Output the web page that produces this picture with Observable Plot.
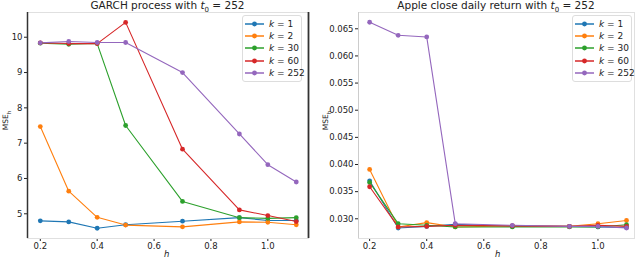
<!DOCTYPE html>
<html><head><meta charset="utf-8">
<script src="https://cdn.jsdelivr.net/npm/d3@7"></script>
<script src="https://cdn.jsdelivr.net/npm/@observablehq/plot@0.6"></script>
<style>
body{margin:0;background:#fff;font-family:"DejaVu Sans",sans-serif;}
#wrap{position:relative;width:640px;height:260px;overflow:hidden;}
.panel{position:absolute;top:0;width:320px;height:260px;}
.title{position:absolute;top:0;left:0;width:100%;text-align:center;font-size:10.5px;line-height:11px;color:#222;white-space:nowrap;}
.ylab{position:absolute;font-size:7.5px;line-height:9px;color:#222;transform:rotate(-90deg);transform-origin:center;white-space:nowrap;}
.xlab{position:absolute;top:249px;font-size:8.5px;line-height:10px;font-style:italic;color:#222;}
.legend{position:absolute;top:15px;width:60px;height:67px;border:1px solid #ddd;border-radius:3px;background:rgba(255,255,255,0.85);box-sizing:border-box;}
.row{position:absolute;left:0;height:12px;font-size:9px;color:#222;white-space:nowrap;}
.row svg{position:absolute;left:0;top:0;}
.row span{position:absolute;left:26px;top:0;line-height:12px;}
</style></head>
<body><div id="wrap"></div>
<script>
const h = [0.2, 0.3, 0.4, 0.5, 0.7, 0.9, 1.0, 1.1];
const kLabels = ["1", "2", "30", "60", "252"];
const colors = ["#1f77b4", "#ff7f0e", "#2ca02c", "#d62728", "#9467bd"];

const garchK1   = [4.80, 4.77, 4.59, 4.69, 4.79, 4.89, 4.81, 4.81];
const garchK2   = [7.47, 5.64, 4.90, 4.68, 4.63, 4.77, 4.76, 4.69];
const garchK30  = [9.83, 9.80, 9.82, 7.50, 5.35, 4.89, 4.87, 4.89];
const garchK60  = [9.84, 9.82, 9.82, 10.42, 6.83, 5.11, 4.95, 4.78];
const garchK252 = [9.84, 9.88, 9.85, 9.85, 9.00, 7.26, 6.39, 5.90];

const appleK1   = [0.0370, 0.0283, 0.0286, 0.0290, 0.0286, 0.0286, 0.0285, 0.0284];
const appleK2   = [0.0391, 0.0285, 0.0293, 0.0285, 0.0287, 0.0286, 0.0291, 0.0297];
const appleK30  = [0.0367, 0.0291, 0.0288, 0.0285, 0.0285, 0.0285, 0.0285, 0.0289];
const appleK60  = [0.0359, 0.0285, 0.0286, 0.0288, 0.0287, 0.0286, 0.0288, 0.0286];
const appleK252 = [0.0662, 0.0638, 0.0635, 0.0291, 0.0288, 0.0286, 0.0286, 0.0283];

const xTicks = [0.2, 0.4, 0.6, 0.8, 1.0];
const garchYTicks = [5, 6, 7, 8, 9, 10];
const appleYTicks = [0.030, 0.035, 0.040, 0.045, 0.050, 0.055, 0.060, 0.065];

function toRows(series) {
  const rows = [];
  series.forEach((vals, i) => vals.forEach((v, j) => rows.push({h: h[j], v, k: kLabels[i]})));
  return rows;
}

function makePanel(o) {
  const data = toRows(o.series);
  return Plot.plot({
    width: 320, height: 260,
    marginLeft: o.ml, marginRight: o.mr, marginTop: 12, marginBottom: 22,
    style: {fontFamily: "DejaVu Sans, sans-serif", fontSize: "8.5px", color: "#222", background: "transparent"},
    x: {domain: o.xd, ticks: xTicks, tickFormat: d3.format(".1f"), label: null, tickSize: 3, tickPadding: 1},
    y: {domain: o.yd, ticks: o.yt, tickFormat: o.yf, label: null, tickSize: 3, tickPadding: 2},
    color: {domain: kLabels, range: colors},
    marks: [
      Plot.frame({stroke: "#e0e0e0"}),
      Plot.ruleX([o.xd[0]], {stroke: o.spine, strokeWidth: o.spineW}),
      o.rightSpine ? Plot.ruleX([o.xd[1]], {stroke: "#333", strokeWidth: 1.8}) : null,
      Plot.line(data, {x: "h", y: "v", z: "k", stroke: "k", strokeWidth: 1.1}),
      Plot.dot(data, {x: "h", y: "v", fill: "k", r: 2.4})
    ]
  });
}

function legendHTML(left) {
  const lg = document.createElement("div");
  lg.className = "legend";
  lg.style.left = left + "px";
  kLabels.forEach((k, i) => {
    const r = document.createElement("div");
    r.className = "row";
    r.style.top = (2 + i * 12.2) + "px";
    r.innerHTML = `<svg width="24" height="12"><line x1="2" x2="21" y1="6" y2="6" stroke="${colors[i]}" stroke-width="1.5"/><circle cx="11.5" cy="6" r="2.4" fill="${colors[i]}"/></svg><span><i>k</i> = ${k}</span>`;
    lg.appendChild(r);
  });
  return lg;
}

const wrap = document.getElementById("wrap");
const panels = [
  {left: 0, ml: 27, mr: 12, xd: [0.155, 1.143], yd: [4.30, 10.70], yt: garchYTicks, yf: d3.format("d"),
   series: [garchK1, garchK2, garchK30, garchK60, garchK252], spine: "#333", spineW: 1.5, rightSpine: true,
   title: 'GARCH process with <i>t</i><sub style="font-size:7px;line-height:0">0</sub> = 252', legendLeft: 242, xlab: 164},
  {left: 320, ml: 38, mr: 6, xd: [0.161, 1.128], yd: [0.02637, 0.0680], yt: appleYTicks, yf: d3.format(".3f"),
   series: [appleK1, appleK2, appleK30, appleK60, appleK252], spine: "#ccc", spineW: 1, rightSpine: false,
   title: 'Apple close daily return with <i>t</i><sub style="font-size:7px;line-height:0">0</sub> = 252', legendLeft: 252, xlab: 175}
];

panels.forEach(p => {
  const div = document.createElement("div");
  div.className = "panel";
  div.style.left = p.left + "px";
  div.appendChild(makePanel(p));
  const t = document.createElement("div");
  t.className = "title";
  t.style.left = (p.ml - 160 + (320 - p.ml - p.mr) / 2) + "px";
  t.innerHTML = p.title;
  div.appendChild(t);
  const yl = document.createElement("div");
  yl.className = "ylab";
  yl.style.left = "-4px";
  yl.style.top = "116px";
  yl.innerHTML = 'MSE<sub style="font-size:5.5px;line-height:0">h</sub>';
  div.appendChild(yl);
  const xl = document.createElement("div");
  xl.className = "xlab";
  xl.style.left = p.xlab + "px";
  xl.textContent = "h";
  div.appendChild(xl);
  div.appendChild(legendHTML(p.legendLeft));
  wrap.appendChild(div);
});
</script>
</body></html>
